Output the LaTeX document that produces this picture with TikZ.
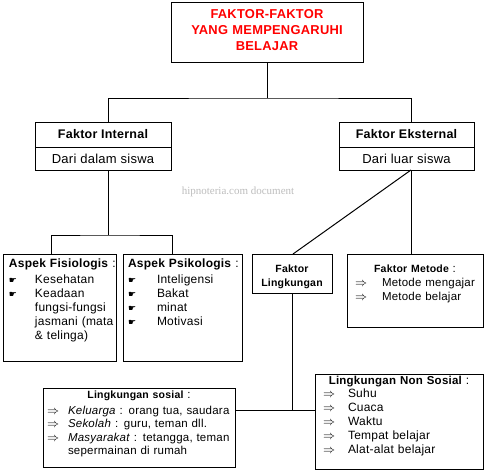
\documentclass[tikz,border=0pt]{standalone}
\usepackage{fontspec}
\setmainfont{Liberation Sans}[LetterSpace=2]
\newfontfamily\handfont{DejaVu Sans}
\newfontfamily\markfont{Liberation Serif}
\usepackage{tikz}
\usetikzlibrary{positioning, calc}
\definecolor{cTitle}{HTML}{FF0000}
\definecolor{cMark}{HTML}{BDBDBD}

\newcommand{\hand}[2][26pt]{\mbox{\makebox[#1][l]{\handfont\fontsize{9}{9}\selectfont ☛}#2}}
\newcommand{\arr}[2][25pt]{\mbox{\makebox[#1][l]{$\Rightarrow$}#2}}
\newcommand{\cont}[2][26pt]{\mbox{\hspace*{#1}#2}}

\begin{document}
\begin{tikzpicture}[x=1pt, y=-1pt,
  box/.style={draw, line width=1pt, anchor=north west, outer sep=0pt, inner ysep=0pt, align=left, font=\fontsize{12}{14}\selectfont},
  hbox/.style={draw, line width=1pt, anchor=north west, outer sep=0pt, inner sep=0pt, minimum height=25pt, align=center, font=\bfseries\fontsize{12.5}{14}\selectfont},
  conn/.style={line width=1pt},
  wmark/.style={font=\markfont\fontsize{11}{12}\selectfont, text=cMark}
]
\useasboundingbox (0,0) rectangle (488,474);

% title
\node[box, align=center, text width=192pt, inner xsep=0pt, text height=16.5pt, text depth=43.5pt, text=cTitle, font=\bfseries\fontsize{12.9}{15.8}\selectfont] (title) at (171,2) {FAKTOR-FAKTOR\\YANG MEMPENGARUHI\\BELAJAR};

% internal / external
\node[hbox, minimum width=136pt] (fint) at (35,122) {Faktor Internal};
\node[hbox, minimum width=136pt, minimum height=23pt, font=\fontsize{13}{14}\selectfont, below=0pt of fint] (fintb) {Dari dalam siswa};
\node[hbox, minimum width=135pt] (fext) at (339,122) {Faktor Eksternal};
\node[hbox, minimum width=135pt, minimum height=23pt, font=\fontsize{13}{14}\selectfont, below=0pt of fext] (fextb) {Dari luar siswa};

\node[wmark] (wm) at (238,192) {hipnoteria.com document};

% aspek
\node[box, text width=101pt, inner xsep=6pt, text height=13pt, text depth=94pt] (fis) at (3,254)
  {\mbox{\textbf{Aspek Fisiologis} :}\\[2pt]
   \hand{Kesehatan}\\
   \hand{Keadaan}\\
   \cont{fungsi-fungsi}\\
   \cont{jasmani (mata}\\
   \cont{\& telinga)}};
\node[box, text width=109pt, inner xsep=5pt, text height=13pt, text depth=94pt] (psi) at (123,254)
  {\mbox{\textbf{Aspek Psikologis} :}\\[2pt]
   \hand[29pt]{Inteligensi}\\
   \hand[29pt]{Bakat}\\
   \hand[29pt]{minat}\\
   \hand[29pt]{Motivasi}};

% eksternal
\node[box, align=center, text width=80pt, inner xsep=0pt, text height=18pt, text depth=21pt, font=\bfseries\fontsize{10.5}{14}\selectfont] (lgk) at (252,254) {Faktor\\Lingkungan};
\node[box, text width=120pt, inner xsep=8pt, text height=18pt, text depth=55pt, font=\fontsize{11.5}{14}\selectfont] (met) at (347,254)
  {\makebox[\linewidth]{{\bfseries\fontsize{10.5}{14}\selectfont Faktor Metode} :}\\
   \arr[27pt]{Metode mengajar}\\
   \arr[27pt]{Metode belajar}};

% lingkungan
\node[box, text width=184pt, inner xsep=4pt, text height=10.5pt, text depth=68.5pt, font=\fontsize{11.5}{13.5}\selectfont] (sos) at (43,388)
  {\makebox[\linewidth]{{\bfseries\fontsize{10.5}{13.5}\selectfont Lingkungan sosial} :}\\[2pt]
   \arr[21pt]{\textit{Keluarga} : orang tua, saudara}\\
   \arr[21pt]{\textit{Sekolah} : guru, teman dll.}\\
   \arr[21pt]{\textit{Masyarakat} : tetangga, teman}\\
   \cont[21pt]{sepermainan di rumah}};
\node[box, text width=152pt, inner xsep=8pt, text height=10.5pt, text depth=84.5pt] (nsos) at (315,374)
  {\makebox[\linewidth]{{\bfseries\fontsize{11.5}{14}\selectfont Lingkungan Non Sosial} :}\\[-1.5pt]
   \arr{Suhu}\\
   \arr{Cuaca}\\
   \arr{Waktu}\\
   \arr{Tempat belajar}\\
   \arr{Alat-alat belajar}};

% connectors
\draw[conn] (title.south) -- ++(0,36) coordinate (split);
\draw[conn] ($(fint.north)+(5,0)$) |- (split) -| ($(fext.north)+(4.5,0)$);
\draw[conn] ($(fintb.south)+(5,0)$) -- ++(0,65) coordinate (isplit);
\draw[conn] ($(fis.north)+(-8.5,0)$) |- (isplit) -| ($(psi.north)+(-10.5,0)$);
\draw[conn] ($(fextb.south)+(4.5,0)$) -- ($(met.north)+(-4,0)$);
\draw[conn] ($(fextb.south)+(4.5,0)$) -- ($(lgk.north)+(1,0)$);
\draw[conn] (lgk.south) -- ++(0,117) coordinate (lsplit);
\draw[conn] (sos.east |- lsplit) -- (nsos.west |- lsplit);
\end{tikzpicture}
\end{document}
